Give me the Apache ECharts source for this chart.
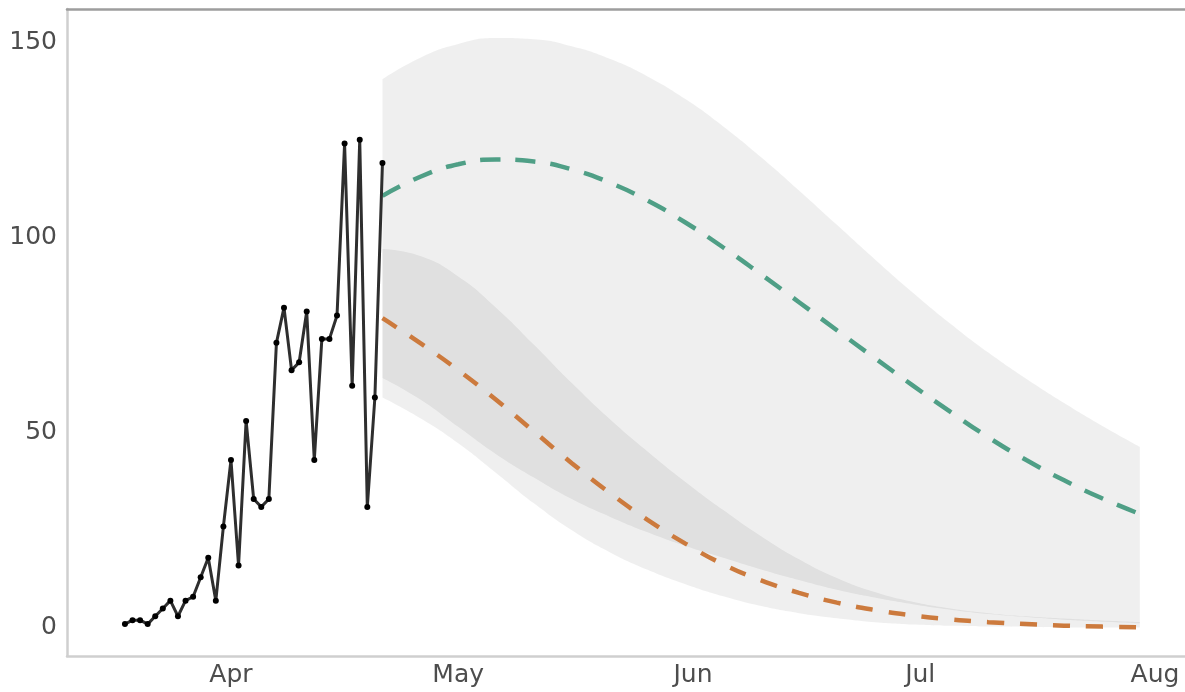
<!DOCTYPE html>
<html>
<head>
<meta charset="utf-8">
<script src="https://cdn.jsdelivr.net/npm/echarts@6/dist/echarts.min.js"></script>
<style>
html,body{margin:0;padding:0;background:#fff;}
#chart{width:1185px;height:692px;}
</style>
</head>
<body>
<div id="chart"></div>
<script>
// observed daily counts
const obsDates = [
  '2020-03-18','2020-03-19','2020-03-20','2020-03-21','2020-03-22','2020-03-23','2020-03-24',
  '2020-03-25','2020-03-26','2020-03-27','2020-03-28','2020-03-29','2020-03-30','2020-03-31',
  '2020-04-01','2020-04-02','2020-04-03','2020-04-04','2020-04-05','2020-04-06','2020-04-07',
  '2020-04-08','2020-04-09','2020-04-10','2020-04-11','2020-04-12','2020-04-13','2020-04-14',
  '2020-04-15','2020-04-16','2020-04-17','2020-04-18','2020-04-19','2020-04-20','2020-04-21'
];
const obsCases = [1,2,2,1,3,5,7,3,7,8,13,18,7,26,43,16,53,33,31,33,73,82,66,68,81,43,74,74,80,124,62,125,31,59,119];

// forecast sample dates
const fcDates = [
  '2020-04-21','2020-04-26','2020-05-01','2020-05-06','2020-05-11','2020-05-16','2020-05-21',
  '2020-05-26','2020-05-31','2020-06-05','2020-06-10','2020-06-15','2020-06-20','2020-06-25',
  '2020-06-30','2020-07-05','2020-07-10','2020-07-15','2020-07-20','2020-07-25','2020-07-30'
];
// scenario A (green)
const greenMid  = [110.6,115.5,118.7,119.9,119.4,117.4,114.0,109.4,103.8,97.4,90.5,83.4,76.2,69.1,62.1,55.3,48.8,43.0,37.8,33.2,29.2];
const greenHigh = [140.5,146,149.5,151,150.7,148.9,145.7,141.2,135.4,128.4,120.5,112,103.2,94.4,85.9,77.9,70.5,63.8,57.6,51.8,46.4];
const greenLow  = [64,58.5,51.5,44.5,38.5,33,28.5,24.5,21,18,15,12.3,9.8,7.8,6.1,4.7,3.6,2.8,2.1,1.6,1.2];
// scenario B (orange)
const orangeMid  = [79.3,72.9,66.0,58.4,50.3,42.2,34.6,27.7,21.6,16.3,12.2,9.0,6.5,4.6,3.2,2.2,1.5,1.0,0.6,0.35,0.2];
const orangeHigh = [97,95.2,90,82,72.5,62.7,53.5,45.2,37.4,30.2,23.5,17.6,12.8,9.2,6.7,5.0,3.8,3.0,2.4,1.9,1.5];
const orangeLow  = [59,53.7,47.3,39.7,31.9,25,19.4,14.9,11.2,8.1,5.6,3.8,2.5,1.5,0.9,0.55,0.35,0.25,0.15,0.1,0.1];

const yTicks = [0,50,100,150];
const xTickDates = ['2020-04-01','2020-05-01','2020-06-01','2020-07-01','2020-08-01'];
const monthNames = ['Jan','Feb','Mar','Apr','May','Jun','Jul','Aug','Sep','Oct','Nov','Dec'];

function ts(s){ const p = s.split('-'); return new Date(+p[0], +p[1]-1, +p[2]).getTime(); }
function pairs(dates, vals){ return dates.map((d,i)=>[ts(d), vals[i]]); }
function diff(hi, lo){ return hi.map((v,i)=>v-lo[i]); }

const DAY = 86400000;
const apr1 = ts('2020-04-01');
const xMin = apr1 - 21.65*DAY;
const xMax = apr1 + 125.96*DAY;

const bandColor = 'rgba(0,0,0,0.064)';
function bandSeries(stack, lo, hi){
  return [
    {type:'line', xAxisIndex:2, stack:stack, data:pairs(fcDates, lo), symbol:'none', smooth:true,
     lineStyle:{opacity:0}, silent:true, z:1},
    {type:'line', xAxisIndex:2, stack:stack, data:pairs(fcDates, diff(hi, lo)), symbol:'none', smooth:true,
     lineStyle:{opacity:0}, areaStyle:{color:bandColor, opacity:1}, silent:true, z:1}
  ];
}

const chart = echarts.init(document.getElementById('chart'), null, {renderer:'canvas'});
const labelFont = {fontFamily:'DejaVu Sans', fontSize:25, color:'#4d4d4d'};
chart.setOption({
  animation:false,
  backgroundColor:'#fff',
  grid:{left:67, right:0, top:9, bottom:36, containLabel:false},
  xAxis:[{
    type:'value', min:xMin, max:xMax, scale:true,
    axisLine:{show:true, onZero:false, lineStyle:{color:'#cfcfcf', width:2.5}},
    axisTick:{show:false},
    splitLine:{show:false},
    axisLabel:Object.assign({
      customValues: xTickDates.map(ts),
      margin:7,
      formatter:function(v){ return monthNames[new Date(v).getMonth()]; },
      hideOverlap:false, showMinLabel:true, showMaxLabel:true
    }, labelFont)
  },{
    type:'value', min:xMin, max:xMax, scale:true, position:'top',
    axisLine:{show:true, onZero:false, lineStyle:{color:'#9d9d9d', width:2.5}},
    axisTick:{show:false}, axisLabel:{show:false}, splitLine:{show:false}
  },{
    type:'time', min:xMin, max:xMax, show:false,
    axisLine:{show:false}, axisTick:{show:false}, axisLabel:{show:false}, splitLine:{show:false}
  }],
  yAxis:{
    type:'value', min:-7.17, max:158.45,
    axisLine:{show:true, onZero:false, lineStyle:{color:'#cfcfcf', width:2.5}},
    axisTick:{show:false},
    splitLine:{show:false},
    axisLabel:Object.assign({customValues: yTicks, margin:10}, labelFont)
  },
  series:[].concat(
    bandSeries('g', greenLow, greenHigh),
    bandSeries('o', orangeLow, orangeHigh),
    [
      {type:'line', data:pairs(fcDates, greenMid), symbol:'none', smooth:true, z:3,
       lineStyle:{color:'#4f9f86', width:4.5, type:[20,15]}},
      {type:'line', data:pairs(fcDates, orangeMid), symbol:'none', smooth:true, z:3,
       lineStyle:{color:'#cc7a3d', width:4.5, type:[17,16]}},
      {type:'line', data:pairs(obsDates, obsCases), symbol:'circle', symbolSize:6, z:4,
       itemStyle:{color:'#000'}, lineStyle:{color:'#2e2e2e', width:3}}
    ]
  )
});
</script>
</body>
</html>
